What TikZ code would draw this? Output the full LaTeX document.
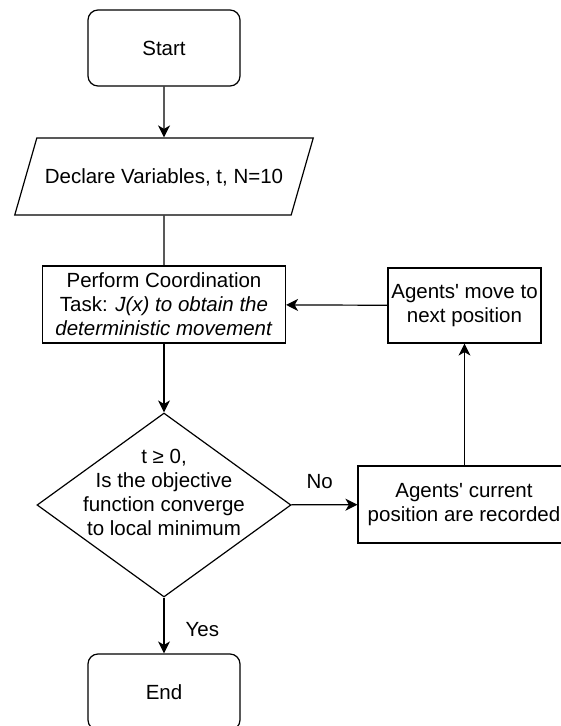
\documentclass[tikz,border=0pt]{standalone}
\usepackage{fontspec}
\setmainfont{Liberation Sans}
\usetikzlibrary{shapes.geometric,arrows.meta}
\begin{document}
\begin{tikzpicture}[x=1pt,y=-1pt,
  every node/.style={font=\fontsize{20.5}{24}\selectfont, inner sep=0pt},
  box/.style={draw, line width=1.2pt, align=center},
  terminal/.style={box, rounded corners=10pt, minimum width=152pt, minimum height=76pt},
  process/.style={box, rectangle},
  io/.style={box, trapezium, trapezium left angle=74, trapezium right angle=106,
    text height=45.5pt, text depth=31.5pt, inner ysep=0pt, inner xsep=8pt},
  decision/.style={box, diamond, minimum width=254pt, minimum height=184pt},
  flow/.style={line width=1.2pt, -{Stealth[length=12pt,width=12pt,inset=3.5pt]}},
  plain/.style={line width=1.2pt},
  tag/.style={font=\fontsize{20.5}{24}\selectfont}
]
\useasboundingbox (0,0) rectangle (561,726);

\node[terminal] (start) at (164,48) {Start};
\node[io] (decl) at (164,176.5) {Declare Variables, t, N=10};
\node[process, minimum width=243pt, minimum height=77pt] (perf) at (164,304.5)
  {Perform Coordination\\ Task: \textit{J(x) to obtain the}\\ \textit{deterministic movement}};
\node[process, minimum width=153pt, minimum height=75pt] (move) at (464.5,305.5)
  {Agents\textquotesingle{} move to\\ next position};
\node[decision] (dec) at (164,505)
  {\makebox[0pt]{\raisebox{5pt}[0pt][0pt]{\begin{tabular}{@{}c@{}}t ≥ 0,\\ Is the objective\\ function converge\\ to local minimum\end{tabular}}}};
\node[process, minimum width=212pt, minimum height=77pt] (rec) at (464,504.5)
  {Agents\textquotesingle{} current\\ position are recorded};
\node[terminal] (end) at (164,692) {End};

\draw[flow] (start) -- (decl);
\draw[plain] (decl) -- (perf);
\draw[flow] (perf) -- (dec);
\draw[flow] (dec) -- node[tag, above=15pt, pos=0.43] (no) {No} (rec);
\draw[flow] (rec.north -| move.south) -- (move.south);
\draw[flow] (move) -- (perf);
\draw[flow] (dec) -- node[tag, right=21pt, pos=0.58] (yes) {Yes} (end);
\end{tikzpicture}
\end{document}
